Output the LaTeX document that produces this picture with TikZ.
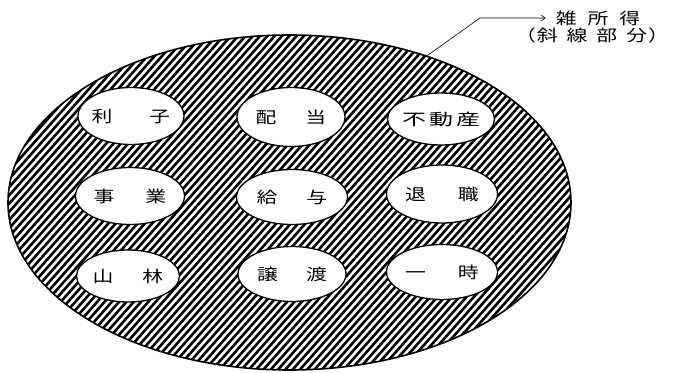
\documentclass[tikz,border=0pt]{standalone}
\usepackage{fontspec}
\newfontfamily\jp[FakeStretch=1.3]{Noto Sans CJK JP}
\newfontfamily\jpw[FakeStretch=1.5]{Noto Sans CJK JP}
\usetikzlibrary{shapes.geometric,arrows.meta}
\begin{document}
\begin{tikzpicture}[x=1pt,y=1pt,
  bub/.style={ellipse,draw=black,fill=white,line width=1.3pt,inner sep=0pt,font=\jp\fontsize{16}{16}\selectfont},
  hatchline/.style={line width=2.6pt},
  outline/.style={line width=1.6pt},
  lead/.style={line width=0.6pt,-{Straight Barb[length=4pt,width=6pt]}},
  lbl/.style={font=\jp\fontsize{16}{16}\selectfont,inner sep=0pt}]
\useasboundingbox (0,0) rectangle (677,372);
% hatched large ellipse
\begin{scope}
  \clip (289.5,169.5) ellipse [x radius=281.5pt, y radius=167.5pt];
  \foreach \i in {0,...,130} \draw[hatchline] ({-330+7.3*\i},0) -- ++(330,372);
\end{scope}
\draw[outline] (289.5,169.5) ellipse [x radius=281.5pt, y radius=167.5pt];
% income categories
\node[bub,minimum width=106pt,minimum height=57pt] (rishi) at (131,256) {\makebox[0pt]{利\hspace{37pt}子}};
\node[bub,minimum width=108pt,minimum height=59pt] (haito) at (291,255) {\makebox[0pt]{配\hspace{29pt}当}};
\node[bub,minimum width=107pt,minimum height=52pt] (fudosan) at (441,253) {\makebox[0pt]{\jpw 不\hspace{3pt}動\hspace{3pt}産}};
\node[bub,minimum width=109pt,minimum height=57pt] (jigyo) at (130,176) {\makebox[0pt]{事\hspace{31pt}業}};
\node[bub,minimum width=111pt,minimum height=55pt] (kyuyo) at (292,175) {\makebox[0pt]{給\hspace{29pt}与}};
\node[bub,minimum width=111pt,minimum height=58pt] (taishoku) at (442,178) {\makebox[0pt]{退\hspace{32pt}職}};
\node[bub,minimum width=103pt,minimum height=52pt] (sanrin) at (128,96) {\makebox[0pt]{山\hspace{29pt}林}};
\node[bub,minimum width=108pt,minimum height=55pt] (joto) at (292,98) {\makebox[0pt]{譲\hspace{28pt}渡}};
\node[bub,minimum width=111pt,minimum height=55pt] (ichiji) at (442,100) {\makebox[0pt]{一\hspace{32pt}時}};
% label
\node[lbl] (zatsu) at (598,354) {雑\hspace{11pt}所\hspace{11pt}得};
\node[lbl] (shasen) at (592,337) {（\hspace{1pt}斜\hspace{9pt}線\hspace{9pt}部\hspace{9pt}分\hspace{1pt}）};
\coordinate (ls) at (421,312);
\coordinate (lk) at (480,354);
\draw[lead] (ls) -- (lk) -- ([xshift=-10pt]zatsu.west);
\end{tikzpicture}
\end{document}
